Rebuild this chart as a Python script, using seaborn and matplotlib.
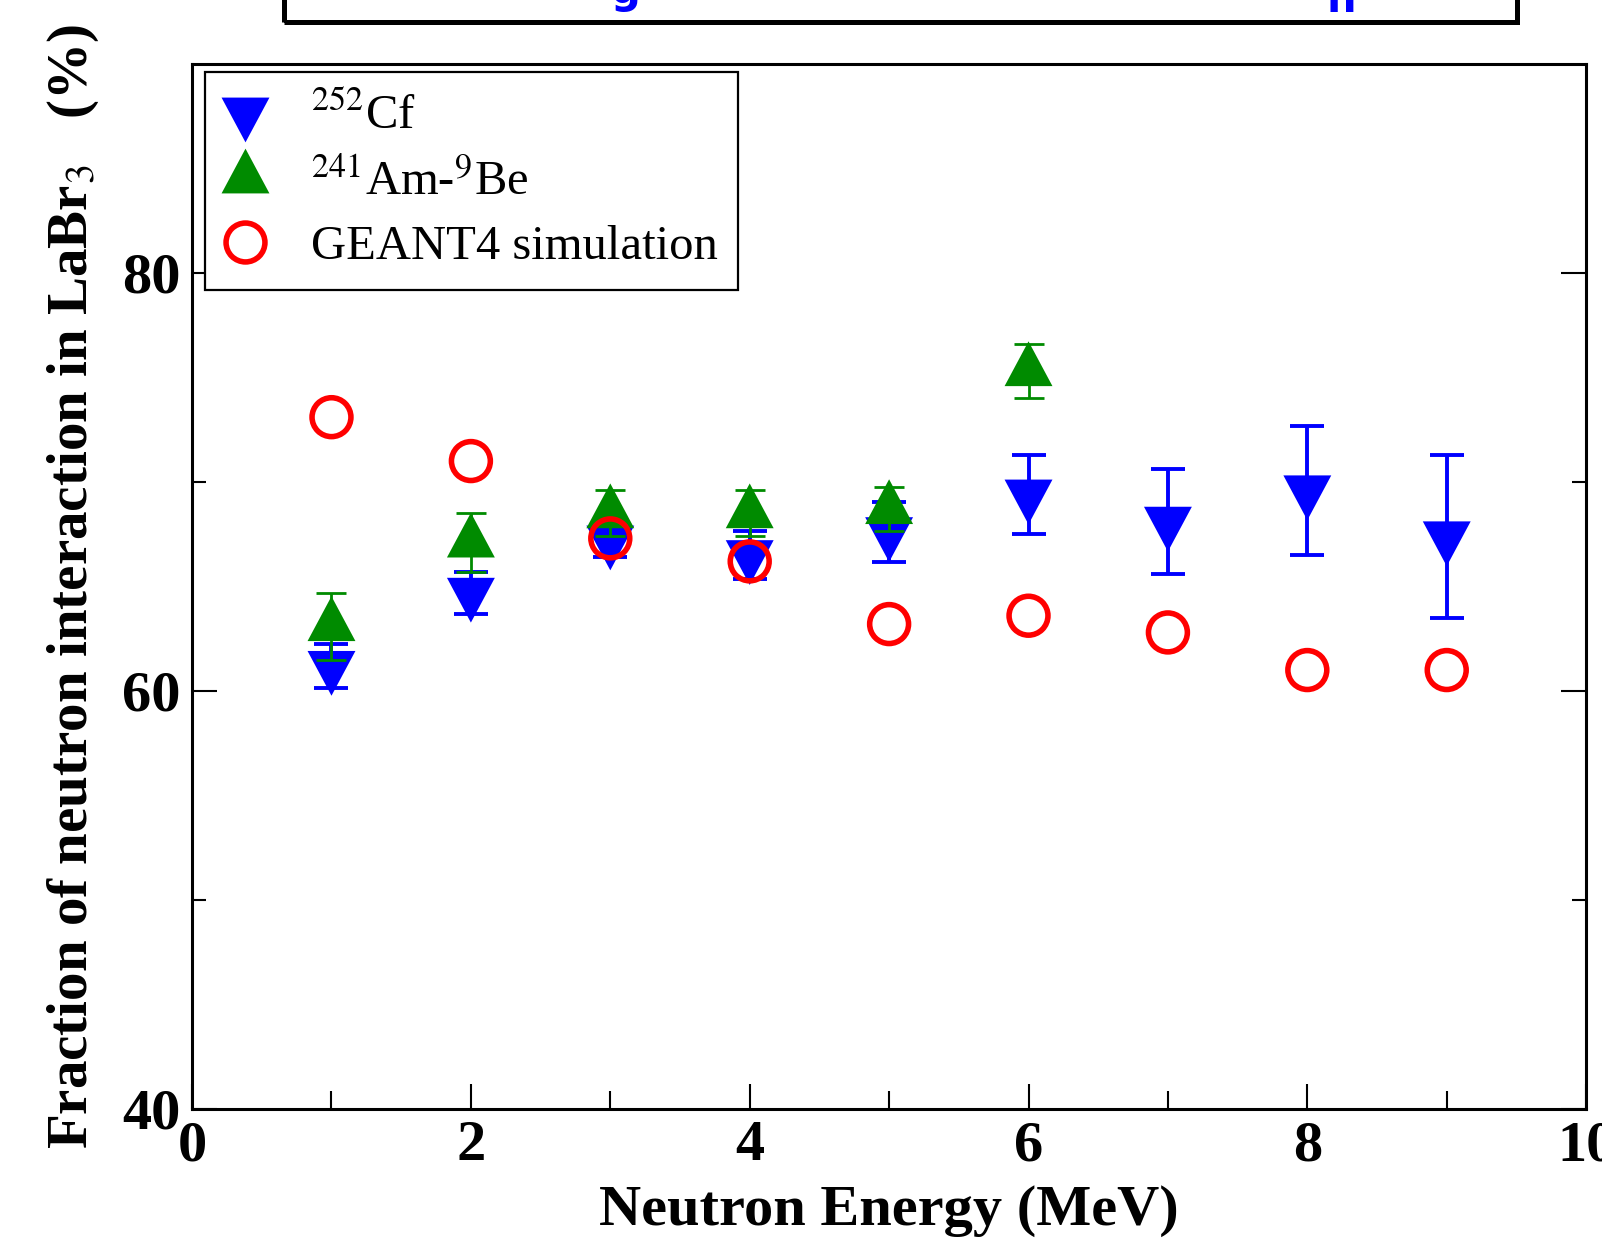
import numpy as np
import matplotlib
matplotlib.use("Agg")
import matplotlib.pyplot as plt
from matplotlib.path import Path
from matplotlib.lines import Line2D
from matplotlib.patches import Rectangle
import seaborn as sns

# ---------------- data ----------------
cf_energy = [1, 2, 3, 4, 5, 6, 7, 8, 9]
cf_frac = [61.2, 64.7, 67.2, 66.5, 67.6, 69.4, 68.1, 69.6, 67.4]
cf_err = [1.05, 1.0, 0.8, 1.15, 1.45, 1.9, 2.5, 3.1, 3.9]

ambe_energy = [1, 2, 3, 4, 5, 6]
ambe_frac = [63.1, 67.1, 68.5, 68.5, 68.7, 75.3]
ambe_err = [1.6, 1.4, 1.1, 1.1, 1.05, 1.3]

sim_energy = [1, 2, 3, 4, 5, 6, 7, 8, 9]
sim_frac = [73.1, 71.0, 67.3, 66.2, 63.2, 63.6, 62.8, 61.0, 61.0]

x_major = [0, 2, 4, 6, 8, 10]
x_minor = [1, 3, 5, 7, 9]
y_major = [40, 60, 80]
y_minor = [50, 70]

legend_labels = [r"$^{252}$Cf", r"$^{241}$Am-$^{9}$Be", "GEANT4 simulation"]
x_label = "Neutron Energy (MeV)"
y_label = r"Fraction of neutron interaction in LaBr$_3$   (%)"

# ---------------- style ----------------
sns.set_theme(style="white")
plt.rcParams["font.family"] = ["Liberation Serif", "DejaVu Serif"]
plt.rcParams["mathtext.fontset"] = "stix"
plt.rcParams["text.color"] = "black"
plt.rcParams["axes.labelcolor"] = "black"

BLUE = "#0000ff"
GREEN = "#008b00"
RED = "#ff0000"

# triangles centred on their centroid (as in the original plotting program)
tri_down = Path([(-1, 0.623), (1, 0.623), (0, -1.247), (-1, 0.623)],
                [Path.MOVETO, Path.LINETO, Path.LINETO, Path.CLOSEPOLY])
tri_up = Path([(-1, -0.623), (1, -0.623), (0, 1.247), (-1, -0.623)],
              [Path.MOVETO, Path.LINETO, Path.LINETO, Path.CLOSEPOLY])
TRI_MS = 43.0
CIRC_MS = 28.0
CIRC_LW = 4.0

fig = plt.figure(figsize=(16.02, 12.40), dpi=100)
ax = fig.add_axes([0.1199, 0.1057, 0.8702, 0.8427])

# error bars + markers
ax.errorbar(cf_energy, cf_frac, yerr=cf_err, fmt="none", ecolor=BLUE,
            elinewidth=2.8, capsize=12.5, capthick=2.8, zorder=2)
sns.scatterplot(x=cf_energy, y=cf_frac, marker=tri_down, s=TRI_MS ** 2,
                color=BLUE, edgecolor="none", linewidth=0, ax=ax, zorder=3)

ax.errorbar(ambe_energy, ambe_frac, yerr=ambe_err, fmt="none", ecolor=GREEN,
            elinewidth=2.0, capsize=10.8, capthick=2.0, zorder=4)
sns.scatterplot(x=ambe_energy, y=ambe_frac, marker=tri_up, s=TRI_MS ** 2,
                color=GREEN, edgecolor="none", linewidth=0, ax=ax, zorder=5)

sns.scatterplot(x=sim_energy, y=sim_frac, marker="o", s=CIRC_MS ** 2,
                color=RED, facecolor="none", edgecolor=RED, linewidth=CIRC_LW,
                ax=ax, zorder=6)

# axes
ax.set_xlim(0, 10)
ax.set_ylim(40, 90)
ax.set_xticks(x_major)
ax.set_xticks(x_minor, minor=True)
ax.set_yticks(y_major)
ax.set_yticks(y_minor, minor=True)
ax.set_xticklabels([str(v) for v in x_major])
ax.set_yticklabels([str(v) for v in y_major])

for s in ax.spines.values():
    s.set_linewidth(2.2)
    s.set_color("black")

ax.tick_params(axis="both", which="both", direction="in", color="black",
               width=1.5, labelsize=42, labelcolor="black", pad=8)
ax.tick_params(axis="x", which="major", length=18, top=False, bottom=True)
ax.tick_params(axis="x", which="minor", length=13, top=False, bottom=True)
ax.tick_params(axis="y", which="major", length=18, left=True, right=True)
ax.tick_params(axis="y", which="minor", length=10, left=True, right=True)
for lab in ax.get_xticklabels() + ax.get_yticklabels():
    lab.set_fontweight("bold")

ax.set_xlabel(x_label, fontsize=42, fontweight="bold", color="black")
ax.set_ylabel(y_label, fontsize=41, fontweight="bold", color="black")
ax.xaxis.set_label_coords(0.5, -0.073)
ax.yaxis.set_label_coords(-0.065, 0.50)

# legend
handles = [
    Line2D([], [], linestyle="none", marker=tri_down, markersize=TRI_MS,
           markerfacecolor=BLUE, markeredgewidth=0),
    Line2D([], [], linestyle="none", marker=tri_up, markersize=TRI_MS,
           markerfacecolor=GREEN, markeredgewidth=0),
    Line2D([], [], linestyle="none", marker="o", markersize=CIRC_MS,
           markerfacecolor="none", markeredgecolor=RED, markeredgewidth=CIRC_LW),
]
leg = ax.legend(handles, legend_labels, loc="upper left",
                bbox_to_anchor=(0.0093, 0.9923), borderaxespad=0,
                fontsize=35, frameon=True, fancybox=False, shadow=False,
                borderpad=0.42, handlelength=0.8, handletextpad=0.95,
                labelspacing=0.42, labelcolor="black")
leg.get_frame().set_edgecolor("black")
leg.get_frame().set_linewidth(1.6)
leg.get_frame().set_alpha(1)

# partially visible header box at the very top of the figure
fig.patches.append(Rectangle((284 / 1602, 1 - 22 / 1240), (1517 - 284) / 1602, 0.05,
                             transform=fig.transFigure, fill=False,
                             edgecolor="black", linewidth=3.6, zorder=10))
fig.text(625 / 1602, 1 - 3 / 1240, "g", color=BLUE, fontsize=30,
         fontweight="bold", family="DejaVu Sans", ha="center", va="baseline")
fig.text(1341 / 1602, 1 - 12 / 1240, "n", color=BLUE, fontsize=30,
         fontweight="bold", family="DejaVu Sans", ha="center", va="baseline")

fig.savefig("out.png", dpi=100)
